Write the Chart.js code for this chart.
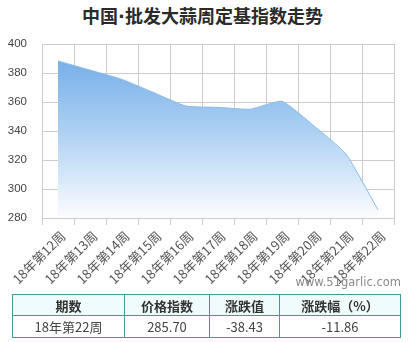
<!DOCTYPE html>
<html>
<head>
<meta charset="utf-8">
<script src="https://cdn.jsdelivr.net/npm/chart.js@4/dist/chart.umd.min.js"></script>
<style>
  html, body { margin: 0; padding: 0; background: #fff; width: 414px; height: 342px; overflow: hidden; font-family: "Noto Sans CJK SC", "Noto Sans", sans-serif; }
  #title { position: absolute; left: 0; top: 3px; width: 405px; text-align: center; font-size: 18px; font-weight: bold; color: #2b2b2b; line-height: 24px; }
  #title .dot { font-family: "DejaVu Sans", sans-serif; }
  #wrap { position: absolute; left: 0; top: 0; width: 414px; height: 285px; }
  #site { position: absolute; right: 13px; top: 275px; font-size: 11.5px; color: #8a8a8a; font-family: "DejaVu Sans", sans-serif; }
  table { position: absolute; left: 12px; top: 294px; border-collapse: collapse; font-size: 13px; color: #333; }
  td { border: 1px solid #3f9c99; text-align: center; padding: 0; }
  tr.h td { background: #effcfb; font-weight: bold; height: 20px; }
  tr.d td { height: 21px; color: #444; }
</style>
</head>
<body>
<div id="title">中国<span class="dot">·</span>批发大蒜周定基指数走势</div>
<div id="wrap"><canvas id="c"></canvas></div>
<div id="site">www.51garlic.com</div>
<table>
  <tr class="h"><td style="width:111px">期数</td><td style="width:84px">价格指数</td><td style="width:69px">涨跌值</td><td style="width:120px">涨跌幅（%）</td></tr>
  <tr class="d"><td id="p"></td><td id="v"></td><td id="ch"></td><td id="pc"></td></tr>
</table>
<script>
const categories = ["18年第12周","18年第13周","18年第14周","18年第15周","18年第16周","18年第17周","18年第18周","18年第19周","18年第20周","18年第21周","18年第22周"];
const indexValues = [388.3, 382.0, 375.6, 366.4, 357.2, 356.3, 355.0, 360.5, 343.5, 324.13, 285.70];
const yTicks = [280, 300, 320, 340, 360, 380, 400];
const summaryPeriod = "18年第22周";
const summaryIndex = "285.70";
const summaryChange = "-38.43";
const summaryPct = "-11.86";

document.getElementById('p').textContent = summaryPeriod;
document.getElementById('v').textContent = summaryIndex;
document.getElementById('ch').textContent = summaryChange;
document.getElementById('pc').textContent = summaryPct;

function grad(ctx) {
  const ca = ctx.chart.chartArea;
  if (!ca) return 'rgba(120,176,232,0.6)';
  const g = ctx.chart.ctx.createLinearGradient(0, ca.top, 0, ca.bottom);
  g.addColorStop(0, 'rgb(108,168,230)');
  g.addColorStop(0.5, 'rgb(172,208,243)');
  g.addColorStop(1, 'rgb(252,253,255)');
  return g;
}

new Chart(document.getElementById('c'), {
  type: 'line',
  data: {
    labels: categories,
    datasets: [{
      data: indexValues,
      borderColor: '#8cbbe8',
      borderWidth: 1,
      backgroundColor: grad,
      fill: 'start',
      tension: 0.15,
      pointRadius: 0
    }]
  },
  options: {
    responsive: true,
    maintainAspectRatio: false,
    animation: false,
    layout: { padding: { top: 44, right: 20, left: 0, bottom: 0 } },
    plugins: { legend: { display: false }, tooltip: { enabled: false } },
    scales: {
      x: {
        offset: true,
        grid: { offset: true, color: '#cccccc', tickLength: 7 },
        border: { color: '#cccccc' },
        ticks: { autoSkip: false, minRotation: 45, maxRotation: 45, padding: 3, labelOffset: 5, color: '#555', font: { size: 13, family: '"Noto Sans CJK SC"' } },
        afterFit: s => { s.height = 67; }
      },
      y: {
        min: 280, max: 400,
        afterBuildTicks: s => { s.ticks = yTicks.map(v => ({ value: v })); },
        grid: { color: '#cccccc', drawTicks: false },
        border: { color: '#cccccc' },
        ticks: { padding: 15, color: '#444', font: { size: 11.5, family: '"Liberation Sans"' } },
        afterFit: s => { s.width = 42; }
      }
    }
  }
});
</script>
</body>
</html>
